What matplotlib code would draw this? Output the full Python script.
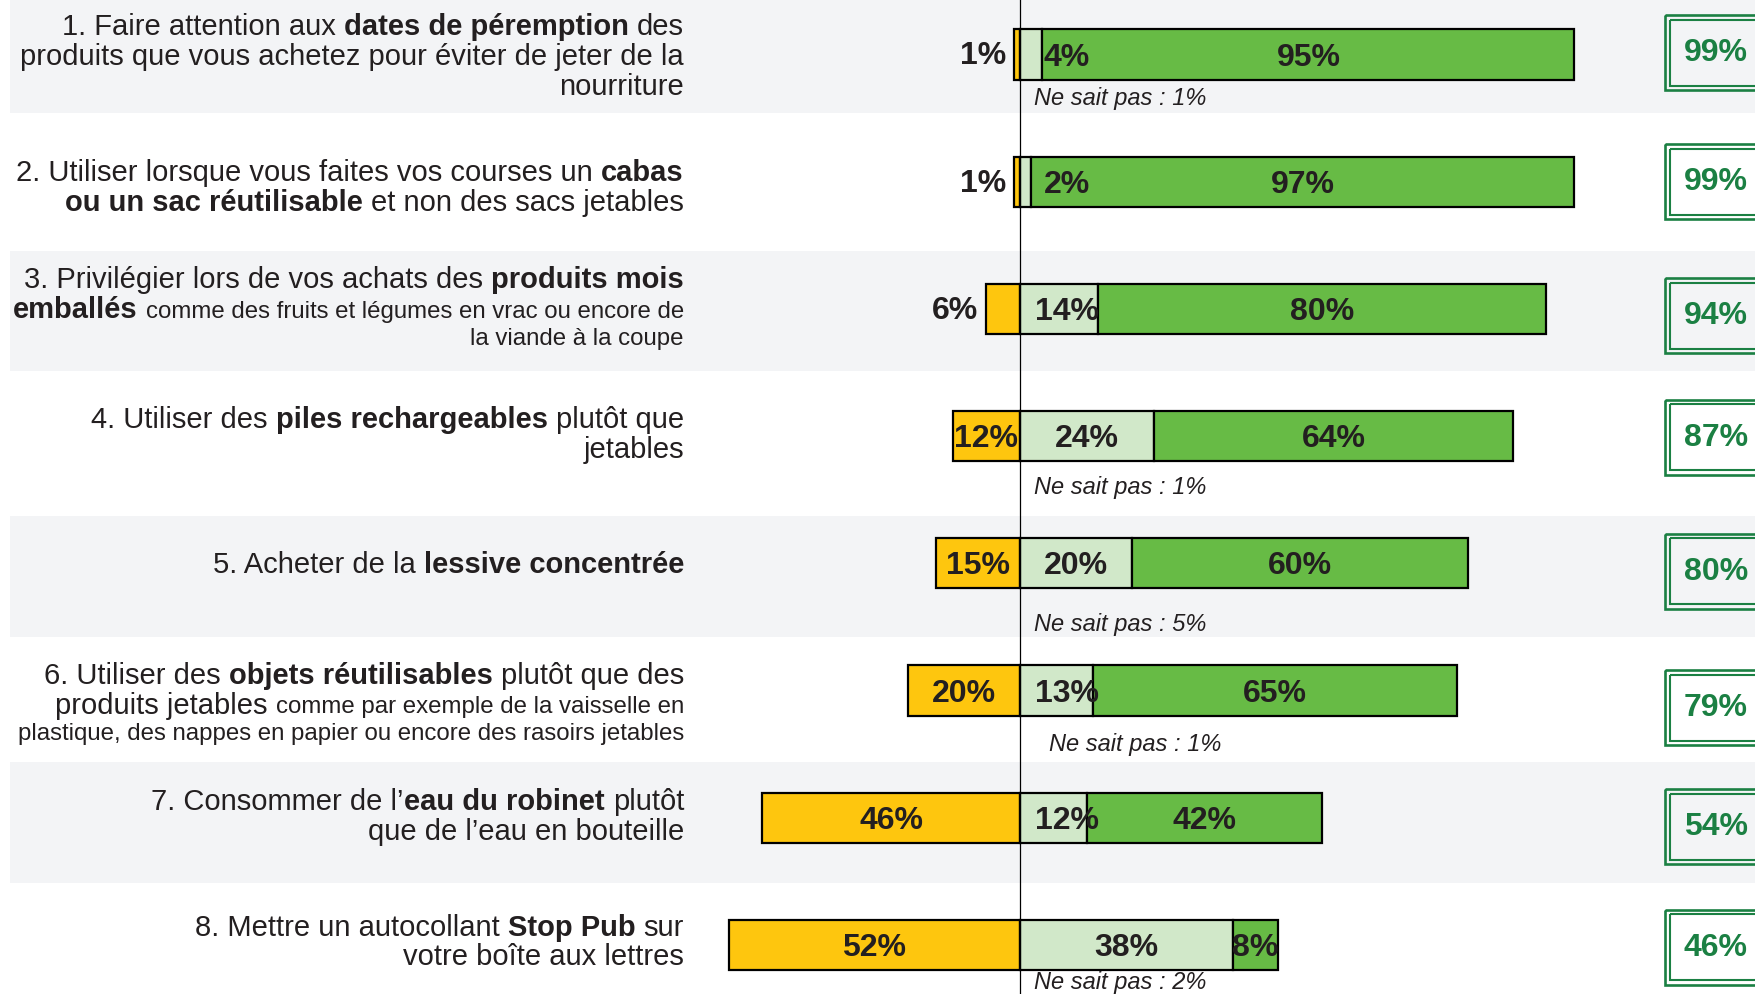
import matplotlib.pyplot as plt
from matplotlib.patches import Rectangle

plt.rcParams['font.family'] = ['Liberation Sans', 'DejaVu Sans']

# Libellés des gestes : chaque ligne est une liste de morceaux (texte, style)
# r = normal, b = gras, s = petit
actions = [
    [[("1. Faire attention aux", "r"), ("dates de péremption", "b"), ("des", "r")],
     [("produits que vous achetez pour éviter de jeter de la", "r")],
     [("nourriture", "r")]],
    [[("2. Utiliser lorsque vous faites vos courses un", "r"), ("cabas", "b")],
     [("ou un sac réutilisable", "b"), ("et non des sacs jetables", "r")]],
    [[("3. Privilégier lors de vos achats des", "r"), ("produits mois", "b")],
     [("emballés", "b"), ("comme des fruits et légumes en vrac ou encore de", "s")],
     [("la viande à la coupe", "s")]],
    [[("4. Utiliser des", "r"), ("piles rechargeables", "b"), ("plutôt que", "r")],
     [("jetables", "r")]],
    [[("5. Acheter de la", "r"), ("lessive concentrée", "b")]],
    [[("6. Utiliser des", "r"), ("objets réutilisables", "b"), ("plutôt que des", "r")],
     [("produits jetables", "r"), ("comme par exemple de la vaisselle en", "s")],
     [("plastique, des nappes en papier ou encore des rasoirs jetables", "s")]],
    [[("7. Consommer de l’", "r"), ("eau du robinet", "b"), ("plutôt", "r")],
     [("que de l’eau en bouteille", "r")]],
    [[("8. Mettre un autocollant", "r"), ("Stop Pub", "b"), ("sur", "r")],
     [("votre boîte aux lettres", "r")]],
]

non = [1, 1, 6, 12, 15, 20, 46, 52]
oui_parfois = [4, 2, 14, 24, 20, 13, 12, 38]
oui_toujours = [95, 97, 80, 64, 60, 65, 42, 8]
total_oui = [99, 99, 94, 87, 80, 79, 54, 46]
ne_sait_pas = [1, None, None, 1, 5, 1, None, 2]

# Mise en page (en pixels de l'image)
LARGEUR, HAUTEUR = 1756, 994
X_ZERO = 1020
PX_PAR_PCT = 5.6
Y_PREMIER, PAS = 54.5, 127.2
HAUT_BARRE = 50.4
X_TEXTE = 684
decal_texte = [1, 5, -2, -3, 0, 12, -2, -4]
decal_boite = [-2, 0, 7, 1, 8, 17, 9, 2.5]
decal_nsp = [44, None, None, 51, 61, 53.5, None, 38]
x_nsp = [1034, None, None, 1034, 1034, 1049, None, 1034]
bandes = [(0, 113), (251, 371), (516, 637), (762, 883)]

ORANGE = '#fec60e'
VERT_CLAIR = '#d1e8c9'
VERT = '#67bb45'
VERT_FONCE = '#1b8043'
GRIS = '#f3f4f6'
TEXTE = '#231f20'

STYLES = {
    'r': dict(fontsize=21, fontweight='normal'),
    'b': dict(fontsize=21, fontweight='bold'),
    's': dict(fontsize=17.3, fontweight='normal'),
}


def px(x):
    # position en pixels -> pourcentage sur l'axe horizontal
    return (x - X_ZERO) / PX_PAR_PCT


def largeur_pct(ax, renderer, texte, style):
    t = ax.text(0, 0, texte, **STYLES[style])
    w = t.get_window_extent(renderer).width
    t.remove()
    return w / PX_PAR_PCT


def ecrire_ligne(ax, renderer, morceaux, y):
    # On pose les morceaux de droite à gauche, sur la même ligne de base
    x = px(X_TEXTE)
    espaces = {s: largeur_pct(ax, renderer, "a a", s) - largeur_pct(ax, renderer, "aa", s)
               for s in STYLES}
    for k in range(len(morceaux) - 1, -1, -1):
        texte, style = morceaux[k]
        t = ax.text(x, y, texte, ha='right', va='baseline', color=TEXTE, **STYLES[style])
        x -= t.get_window_extent(renderer).width / PX_PAR_PCT
        if k > 0 and not morceaux[k - 1][0].endswith("’"):
            x -= espaces[morceaux[k - 1][1]]


fig = plt.figure(figsize=(LARGEUR / 100, HAUTEUR / 100), dpi=100)
ax = fig.add_axes([0, 0, 1, 1])
ax.set_xlim(px(0), px(LARGEUR))
ax.set_ylim(HAUTEUR, 0)
ax.axis('off')
renderer = fig.canvas.get_renderer()

# Bandes grises une ligne sur deux
for haut, bas in bandes:
    ax.axhspan(haut, bas, xmin=10 / LARGEUR, xmax=1, color=GRIS, zorder=0, lw=0)

y_barres = [Y_PREMIER + PAS * i for i in range(len(non))]
neg = [-v for v in non]

ax.barh(y_barres, non, left=neg, height=HAUT_BARRE, color=ORANGE,
        edgecolor='black', linewidth=1.6, zorder=2)
ax.barh(y_barres, oui_parfois, left=0, height=HAUT_BARRE, color=VERT_CLAIR,
        edgecolor='black', linewidth=1.6, zorder=2)
ax.barh(y_barres, oui_toujours, left=oui_parfois, height=HAUT_BARRE, color=VERT,
        edgecolor='black', linewidth=1.6, zorder=2)

ax.axvline(0, color='black', linewidth=0.9, zorder=3)

etiq = dict(fontsize=23, fontweight='bold', color=TEXTE, va='center', zorder=4)

for i, y in enumerate(y_barres):
    # libellé à gauche
    lignes = actions[i]
    pas_lignes = [29.8 if any(s != 's' for _, s in l) else 26.8 for l in lignes]
    pos = [0]
    for p in pas_lignes[1:]:
        pos.append(pos[-1] + p)
    centre = y + decal_texte[i]
    decal = centre - (pos[0] + pos[-1]) / 2
    for l, p in zip(lignes, pos):
        ecrire_ligne(ax, renderer, l, p + decal + 9.5)

    # valeurs dans les barres
    yl = y + 3
    if non[i] < 10:
        ax.text(-non[i] - 1.5, yl - 1, f"{non[i]}%", ha='right', **etiq)
    else:
        ax.text(-non[i] / 2, yl, f"{non[i]}%", ha='center', **etiq)
    ax.text(max(oui_parfois[i] / 2, 8.4), yl, f"{oui_parfois[i]}%", ha='center', **etiq)
    ax.text(oui_parfois[i] + oui_toujours[i] / 2, yl, f"{oui_toujours[i]}%", ha='center', **etiq)

    if ne_sait_pas[i] is not None:
        ax.text(px(x_nsp[i]), y + decal_nsp[i], f"Ne sait pas : {ne_sait_pas[i]}%",
                fontsize=17, fontstyle='italic', color=TEXTE, ha='left', va='center', zorder=4)

    # encadré du total à droite (double filet)
    cy = y + decal_boite[i]
    x_g, x_d = px(1665), px(1767)
    ax.add_patch(Rectangle((x_g, cy - 37.5), x_d - x_g, 75, fill=False,
                           edgecolor=VERT_FONCE, linewidth=1.9, zorder=3))
    ins = 4.6 / PX_PAR_PCT
    ax.add_patch(Rectangle((x_g + ins, cy - 33), x_d - x_g - 2 * ins, 66, fill=False,
                           edgecolor=VERT_FONCE, linewidth=1.5, zorder=3))
    ax.text(px(1716), cy + 0.5, f"{total_oui[i]}%", ha='center', va='center',
            fontsize=23, fontweight='bold', color=VERT_FONCE, zorder=4)

fig.savefig('out.png', dpi=100)
